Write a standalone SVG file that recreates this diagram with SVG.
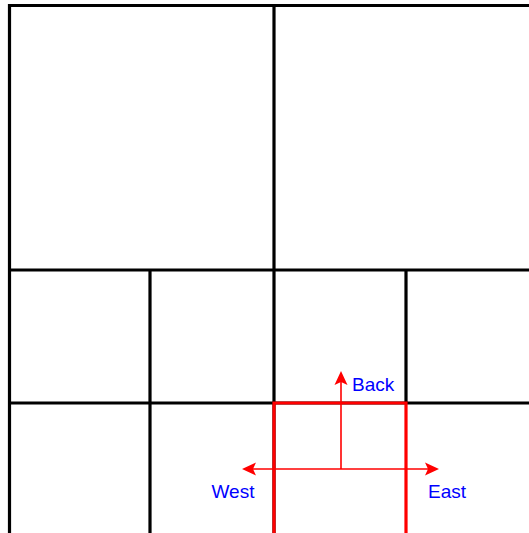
<svg xmlns="http://www.w3.org/2000/svg" width="529" height="533" viewBox="0 0 529 533">
<style>
.grid{stroke:#000;stroke-width:3.2;fill:none}
.sel{stroke:#ff0000;stroke-width:3.2;fill:none}
.arr{stroke:#ff0000;stroke-width:1.6;fill:none}
.head{fill:#ff0000}
.lbl{font-family:"Liberation Sans",Arial,sans-serif;font-size:19px;fill:#0000ff}
</style>
<rect width="529" height="533" fill="#fff"/>
<g id="grid" class="grid">
<line x1="8" y1="5.5" x2="529" y2="5.5"/>
<line x1="9.5" y1="4" x2="9.5" y2="533"/>
<line x1="274" y1="5.5" x2="274" y2="533"/>
<line x1="8" y1="270" x2="529" y2="270"/>
<line x1="150" y1="270" x2="150" y2="533"/>
<line x1="406" y1="270" x2="406" y2="403"/>
<line x1="8" y1="403" x2="529" y2="403"/>
</g>
<g id="selected-cell" class="sel">
<polyline points="274,533 274,403 406,403 406,533"/>
</g>
<g id="connectors">
<line class="arr" x1="341" y1="469" x2="341" y2="380"/>
<line class="arr" x1="251" y1="469" x2="430" y2="469"/>
<polygon class="head" points="341,371 347.5,385 341,382 334.5,385"/>
<polygon class="head" points="242,469 256,462.5 253,469 256,475.5"/>
<polygon class="head" points="439,469 425,462.5 428,469 425,475.5"/>
</g>
<g id="labels">
<text class="lbl" x="352" y="391">Back</text>
<text class="lbl" x="211.5" y="498">West</text>
<text class="lbl" x="428" y="498">East</text>
</g>
</svg>
